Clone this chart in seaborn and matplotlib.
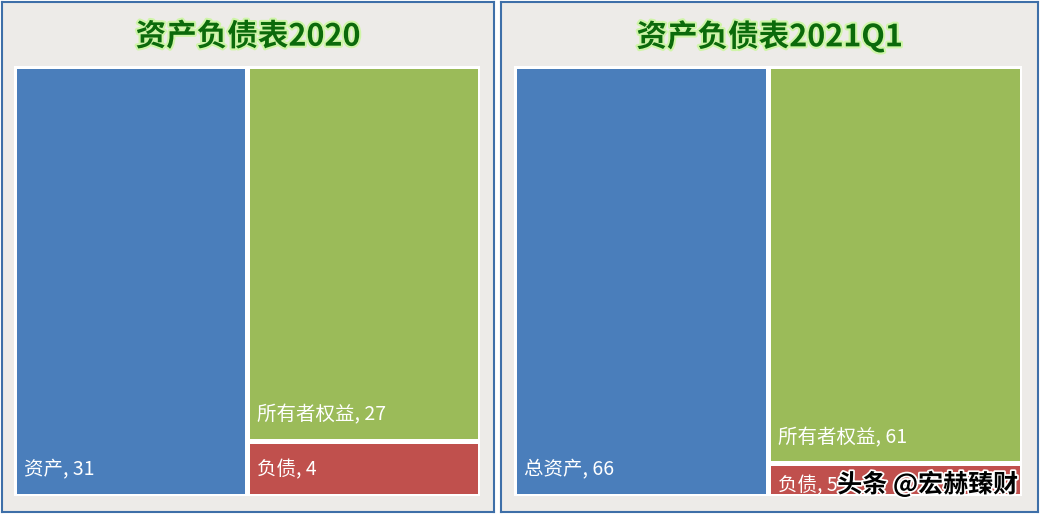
import numpy as np
import seaborn as sns
import matplotlib
matplotlib.use("Agg")
from matplotlib import pyplot as plt
from matplotlib.patches import Rectangle
import matplotlib.patheffects as pe

# balance sheet values
titles = ["资产负债表2020", "资产负债表2021Q1"]
asset_names = ["资产", "总资产"]
assets = [31, 66]
equity = [27, 61]
liabilities = [4, 5]
equity_name = "所有者权益"
liab_name = "负债"
watermark = "头条 @宏赫臻财"

sns.set_theme(style="white")
plt.rcParams["font.family"] = ["Noto Sans CJK SC", "DejaVu Sans"]

c_asset = "#4A7EBB"
c_equity = "#9BBB59"
c_liab = "#C0504D"
panel_bg = "#EDEBE8"
border = "#3E6FA8"

W, H = 1040, 514
fig = plt.figure(figsize=(W / 100, H / 100), dpi=100)
fig.patch.set_facecolor("white")

# panel boxes and inner plot areas in pixels (left, top, right, bottom)
panels = [(2, 2, 494, 512), (501, 2, 1038, 512)]
inner = [(14, 66, 480, 496), (514, 66, 1022, 496)]


def px_axes(box):
    l, t, r, b = box
    return fig.add_axes([l / W, 1 - b / H, (r - l) / W, (b - t) / H])


def label(ax, x, y, txt, dy=11):
    ax.annotate(txt, xy=(x, y), xytext=(7, dy), textcoords="offset points",
                color="white", fontsize=14, ha="left", va="bottom")


for i in range(2):
    pax = px_axes(panels[i])
    pax.set_facecolor(panel_bg)
    pax.set_xticks([])
    pax.set_yticks([])
    for s in pax.spines.values():
        s.set_color(border)
        s.set_linewidth(1.5)
    pax.text(0.5, 0.932, titles[i], transform=pax.transAxes, ha="center",
             va="center", fontsize=22, fontweight="bold", color="#0B6A0B",
             path_effects=[pe.withStroke(linewidth=3, foreground="#CFF5A8")])

    ax = px_axes(inner[i])
    ax.set_facecolor("white")
    total = assets[i] + equity[i] + liabilities[i]
    ax.set_xlim(0, total)
    ax.set_ylim(0, 1)
    ax.set_xticks([])
    ax.set_yticks([])
    sns.despine(ax=ax, left=True, bottom=True)

    right = equity[i] + liabilities[i]
    h_liab = liabilities[i] / right
    rects = [
        (0, 0, assets[i], 1, c_asset),
        (assets[i], h_liab, right, 1 - h_liab, c_equity),
        (assets[i], 0, right, h_liab, c_liab),
    ]
    for x0, y0, w, h, c in rects:
        ax.add_patch(Rectangle((x0, y0), w, h, facecolor=c,
                               edgecolor="white", linewidth=3.6))
    label(ax, 0, 0, f"{asset_names[i]}, {assets[i]}")
    label(ax, assets[i], h_liab, f"{equity_name}, {equity[i]}")
    label(ax, assets[i], 0, f"{liab_name}, {liabilities[i]}",
          dy=11 if i == 0 else 0)

fig.text(1018 / W, 1 - 484 / H, watermark, ha="right", va="center",
         fontsize=18, fontweight="bold", color="black",
         path_effects=[pe.withStroke(linewidth=2.5, foreground="white")])

fig.savefig("out.png", dpi=100)
